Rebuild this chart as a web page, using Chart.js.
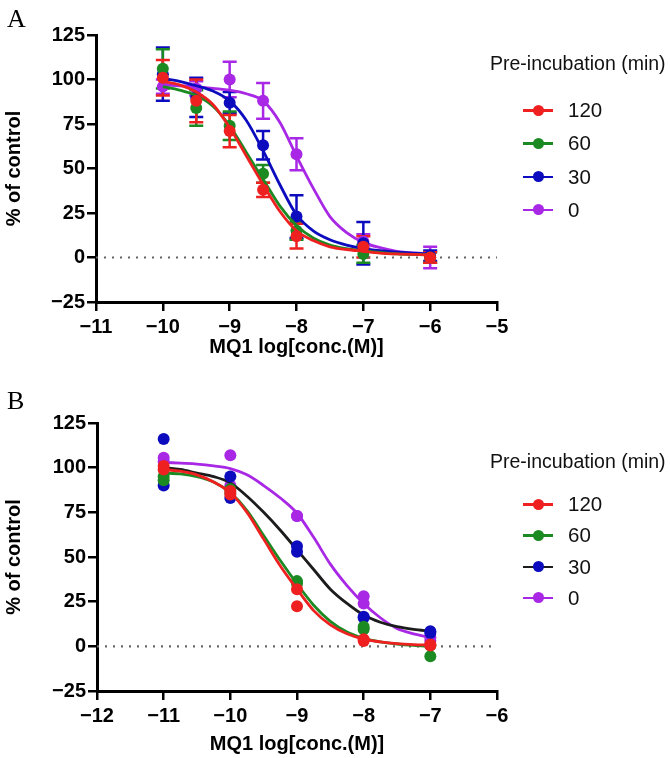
<!DOCTYPE html>
<html>
<head>
<meta charset="utf-8">
<script src="https://cdn.jsdelivr.net/npm/chart.js@4/dist/chart.umd.min.js"></script>
<style>
  html, body { margin:0; padding:0; background:#fff; }
  #wrap { position:relative; width:670px; height:758px; overflow:hidden; }
  .box { position:absolute; left:0; width:670px; }
  .plabel { position:absolute; font-family:"Liberation Serif","Times New Roman",serif; font-size:26px; color:#000; line-height:1; }
  .legend { position:absolute; left:0; top:0; font-family:"Liberation Sans",Arial,sans-serif; color:#111; }
  .ltitle { position:absolute; left:490px; font-size:19.5px; white-space:nowrap; line-height:1; }
  .litem { position:absolute; left:523px; height:20px; }
  .litem .ln { position:absolute; left:0; top:9px; width:30px; height:2.5px; }
  .litem .dt { position:absolute; left:9.5px; top:4.5px; width:11px; height:11px; border-radius:50%; }
  .litem .tx { position:absolute; left:45px; top:0; font-size:20.5px; line-height:20px; white-space:nowrap; }
</style>
</head>
<body>
<div id="wrap">
  <div class="box" style="top:0;height:370px"><canvas id="cA" width="670" height="370"></canvas></div>
  <div class="box" style="top:370px;height:388px"><canvas id="cB" width="670" height="388"></canvas></div>
  <div class="plabel" style="left:7px;top:6px">A</div>
  <div class="plabel" style="left:7px;top:388px">B</div>
  <div id="legA" class="legend"></div>
  <div id="legB" class="legend"></div>
</div>
<script>
// ---------- data ----------
const seriesLabels = ['120', '60', '30', '0'];
const yTicks = [-25, 0, 25, 50, 75, 100, 125];
const xTicksA = [-11, -10, -9, -8, -7, -6, -5];
const xTicksB = [-12, -11, -10, -9, -8, -7, -6];

// Panel A: means and error (SEM) per concentration
const xA = [-10, -9.5, -9, -8.5, -8, -7, -6];
const a120 = [101, 88, 71, 38, 12, 6, 0];
const a120err = [10, 12, 9, 4, 7, 6, 3];
const a60 = [106, 84, 74, 47, 15, 2, 0];
const a60err = [11, 10, 8, 5, 5, 5, 3];
const a30 = [103, 90, 87, 63, 23, 8, 1];
const a30err = [15, 11, 6, 8, 12, 12, 3];
const a0 = [96, 95, 100, 88, 58, 9, 0];
const a0err = [4, 4, 10, 10, 9, 4, 6];

// Panel A: fitted curves
const curveXA = [-10, -9.75, -9.5, -9.25, -9, -8.75, -8.5, -8.25, -8, -7.75, -7.5, -7.25, -7, -6.75, -6.5, -6];
const fitA120 = [99, 97, 93, 86, 73, 57, 41, 26, 15, 9.5, 6, 4.5, 3.5, 2.5, 2, 1.5];
const fitA60 = [96, 94, 91, 85, 74, 59, 44, 29, 18, 11, 7, 5, 3.8, 2.8, 2, 1.5];
const fitA30 = [100.5, 99, 96.5, 93.5, 88, 77, 60, 41, 24, 15, 10, 7, 5, 3.8, 3, 2];
const fitA0 = [97, 96.5, 96, 95, 94, 92, 88, 76, 57, 39, 23, 14, 8.5, 5.5, 3.5, 2];

// Panel B: two replicates per concentration
const xB = [-11, -10, -9, -8, -7];
const b120r1 = [99, 85, 32, 3, 1];
const b120r2 = [101, 87, 22.5, 4, 0.5];
const b60r1 = [93, 86, 35, 11, -5.5];
const b60r2 = [95, 88, 36.5, 9.5, 0.5];
const b30r1 = [116, 95, 56, 16, 8.5];
const b30r2 = [90, 83, 53, 16.5, 7.5];
const b0r1 = [105.5, 107, 73, 28, 5];
const b0r2 = [103.5, 90, 73, 24, 3];

// Panel B: fitted curves
const curveXB = [-11, -10.75, -10.5, -10.25, -10, -9.75, -9.5, -9.25, -9, -8.75, -8.5, -8.25, -8, -7.75, -7.5, -7.25, -7];
const fitB120 = [99, 98, 96, 92, 86, 75, 60, 45, 32, 20, 12, 7, 4, 2.5, 1.5, 1, 0.8];
const fitB60 = [97, 96.5, 95, 92, 86, 76, 62, 48, 35, 23, 14, 8, 4.5, 2.5, 1.3, 0.5, 0];
const fitB30 = [100, 99, 97, 95, 91.5, 84, 75, 65, 54, 43, 32, 24, 17.5, 13.5, 11, 9.5, 8.5];
const fitB0 = [103, 102.5, 102, 101, 99.5, 96, 90, 83, 74.5, 61, 46, 34, 24, 16, 10, 7, 5];

// ---------- styles ----------
const C = { red:'rgb(238,32,32)', green:'rgb(28,138,34)', blue:'rgb(12,12,190)', purple:'rgb(168,40,230)', black:'#1c1c1c' };
const FONT = '"Liberation Sans", Arial, sans-serif';

const pts = (xs, ys) => xs.map((x, i) => ({ x, y: ys[i] }));
const minus = v => String(v).replace('-', '\u2212');

function pointsDs(label, xs, ys, color, errs) {
  return { type:'scatter', label, data: pts(xs, ys), errors: errs, showLine:false,
           backgroundColor: color, borderColor: color, pointRadius: 6, pointHoverRadius: 6, pointBorderWidth: 0 };
}
function curveDs(label, xs, ys, color) {
  return { type:'line', label, data: pts(xs, ys), borderColor: color, backgroundColor: color,
           borderWidth: 2.8, pointRadius: 0, cubicInterpolationMode:'monotone', fill:false };
}
function zeroDs(xmin, xmax) {
  return { type:'line', label:'zero', data:[{x:xmin, y:0}, {x:xmax, y:0}], borderColor:'#666',
           borderWidth: 2.2, borderDash:[2, 6], pointRadius: 0, fill:false };
}

const errorBars = {
  id:'errorBars',
  beforeDatasetsDraw(chart) {
    const { ctx, scales:{ x, y } } = chart;
    const list = chart.data.datasets.map((d, i) => i).reverse();
    list.forEach(i => {
      const ds = chart.data.datasets[i];
      if (!ds.errors) return;
      ctx.save();
      ctx.strokeStyle = ds.borderColor; ctx.lineWidth = 2.5;
      ds.data.forEach((p, j) => {
        const e = ds.errors[j]; if (!e) return;
        const px = x.getPixelForValue(p.x);
        const y1 = y.getPixelForValue(p.y + e), y2 = y.getPixelForValue(p.y - e);
        ctx.beginPath();
        ctx.moveTo(px, y1); ctx.lineTo(px, y2);
        ctx.moveTo(px - 7, y1); ctx.lineTo(px + 7, y1);
        ctx.moveTo(px - 7, y2); ctx.lineTo(px + 7, y2);
        ctx.stroke();
      });
      ctx.restore();
    });
  }
};

function makeChart(id, datasets, xTicks, pad, xH, yW, titlePadX, titlePadY) {
  const axisCommon = {
    type:'linear',
    border:{ display:true, color:'#000', width:3 },
    grid:{ display:true, drawOnChartArea:false, drawTicks:true, tickLength:9, color:'#000', lineWidth:2.5 },
  };
  return new Chart(document.getElementById(id), {
    data:{ datasets },
    options:{
      responsive:false, animation:false, events:[],
      layout:{ padding: pad },
      plugins:{ legend:{ display:false }, tooltip:{ enabled:false } },
      scales:{
        x:{ ...axisCommon, position:'bottom', min: xTicks[0], max: xTicks[xTicks.length - 1],
            afterBuildTicks: s => { s.ticks = xTicks.map(v => ({ value:v })); },
            afterFit: s => { s.height = xH; },
            ticks:{ color:'#000', padding:4, font:{ family:FONT, size:20, weight:'bold' }, callback: v => minus(v), maxRotation:0, autoSkip:false },
            title:{ display:true, text:'MQ1 log[conc.(M)]', color:'#000', font:{ family:FONT, size:20, weight:'bold' }, padding:{ top:0, bottom: titlePadX } } },
        y:{ ...axisCommon, position:'left', min: yTicks[0], max: yTicks[yTicks.length - 1],
            afterBuildTicks: s => { s.ticks = yTicks.map(v => ({ value:v })); },
            afterFit: s => { s.width = yW; },
            ticks:{ color:'#000', padding:2, font:{ family:FONT, size:20, weight:'bold' }, callback: v => minus(v), autoSkip:false },
            title:{ display:true, text:'% of control', color:'#000', font:{ family:FONT, size:20, weight:'bold' }, padding:{ top: titlePadY, bottom:0 } } }
      }
    },
    plugins:[ errorBars ]
  });
}

// Panel A
const dsA = [
  pointsDs('120', xA, a120, C.red, a120err),
  curveDs('120 fit', curveXA, fitA120, C.red),
  pointsDs('60', xA, a60, C.green, a60err),
  curveDs('60 fit', curveXA, fitA60, C.green),
  pointsDs('30', xA, a30, C.blue, a30err),
  curveDs('30 fit', curveXA, fitA30, C.blue),
  pointsDs('0', xA, a0, C.purple, a0err),
  curveDs('0 fit', curveXA, fitA0, C.purple),
  zeroDs(xTicksA[0], xTicksA[xTicksA.length - 1])
];
makeChart('cA', dsA, xTicksA, { top:35, right:173, bottom:0, left:0 }, 68, 96, 11, 2);

// Panel B
const dsB = [
  pointsDs('120', xB, b120r1, C.red), pointsDs('120', xB, b120r2, C.red),
  curveDs('120 fit', curveXB, fitB120, C.red),
  pointsDs('60', xB, b60r1, C.green), pointsDs('60', xB, b60r2, C.green),
  curveDs('60 fit', curveXB, fitB60, C.green),
  pointsDs('30', xB, b30r1, C.blue), pointsDs('30', xB, b30r2, C.blue),
  curveDs('30 fit', curveXB, fitB30, C.black),
  pointsDs('0', xB, b0r1, C.purple), pointsDs('0', xB, b0r2, C.purple),
  curveDs('0 fit', curveXB, fitB0, C.purple),
  zeroDs(xTicksB[0], xTicksB[xTicksB.length - 1])
];
makeChart('cB', dsB, xTicksB, { top:53, right:173, bottom:0, left:0 }, 67, 97, 2, 2);

// Legends (HTML text)
function buildLegend(id, titleTop, firstTop, step, lineColors, dotColors) {
  const el = document.getElementById(id);
  const t = document.createElement('div');
  t.className = 'ltitle'; t.style.top = titleTop + 'px'; t.textContent = 'Pre-incubation (min)';
  el.appendChild(t);
  seriesLabels.forEach((lab, i) => {
    const it = document.createElement('div');
    it.className = 'litem'; it.style.top = (firstTop + i * step - 10) + 'px';
    it.innerHTML = '<div class="ln" style="background:' + lineColors[i] + '"></div>' +
                   '<div class="dt" style="background:' + dotColors[i] + '"></div>' +
                   '<div class="tx">' + lab + '</div>';
    el.appendChild(it);
  });
}
buildLegend('legA', 54, 110, 33.3, [C.red, C.green, C.blue, C.purple], [C.red, C.green, C.blue, C.purple]);
buildLegend('legB', 452, 504, 31.3, [C.red, C.green, C.black, C.purple], [C.red, C.green, C.blue, C.purple]);
</script>
</body>
</html>
